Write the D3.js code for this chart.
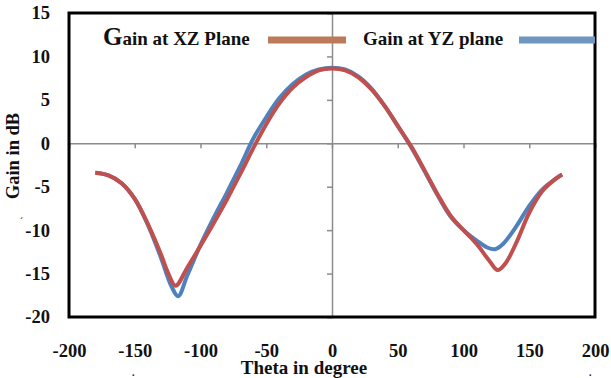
<!DOCTYPE html>
<html>
<head>
<meta charset="utf-8">
<script src="https://cdn.jsdelivr.net/npm/d3@7"></script>
<style>
  body { margin: 0; background: #fff; }
  text { font-family: "Liberation Serif", "Times New Roman", serif; font-weight: bold; fill: #111; }
</style>
</head>
<body>
<svg id="chart" width="611" height="378"></svg>
<script>
// theta (deg) and gain (dB)
let thetaXZ = [-180,-170,-160,-150,-140,-130,-125,-119,-110,-100,-90,-80,-70,-60,-50,-40,-30,-20,-10,0,10,20,30,40,50,60,70,80,90,100,110,120,126,132,140,150,160,170,175]
let gainXZ  = [-3.4,-3.7,-4.6,-6.4,-9.3,-12.8,-14.8,-16.4,-14.3,-11.8,-9.2,-6.5,-3.6,-0.6,2.2,4.6,6.4,7.6,8.4,8.6,8.4,7.6,6.2,4.3,2.0,-0.3,-3.0,-5.8,-8.3,-10.0,-11.6,-13.6,-14.6,-13.8,-11.5,-8.0,-5.5,-4.1,-3.6]

let thetaYZ = [-180,-170,-160,-150,-140,-130,-122,-117,-110,-100,-90,-80,-70,-60,-50,-40,-30,-20,-10,0,10,20,30,40,50,60,70,80,90,100,110,118,124,130,140,150,160,170,175]
let gainYZ  = [-3.4,-3.7,-4.6,-6.4,-9.4,-13.2,-16.5,-17.6,-15.2,-11.7,-8.6,-5.7,-2.7,0.5,3.0,5.2,6.8,7.9,8.5,8.7,8.5,7.7,6.3,4.3,2.0,-0.4,-3.1,-5.9,-8.4,-10.0,-11.2,-12.0,-12.2,-11.6,-9.6,-7.2,-5.3,-4.1,-3.6]

let xTicks = [-200,-150,-100,-50,0,50,100,150,200]
let yTicks = [-20,-15,-10,-5,0,5,10,15]

let margin = {top: 13, bottom: 61, left: 69, right: 16}
let width = 611
let height = 378

let svg = d3.select("#chart")
let xScale = d3.scaleLinear().domain([-200, 200]).range([margin.left, width - margin.right])
let yScale = d3.scaleLinear().domain([-20, 15]).range([height - margin.bottom, margin.top])

// tick labels outside the frame (plain hyphen as in the original)
svg.append("g")
    .attr("transform", "translate(0," + yScale(-20) + ")")
    .call(d3.axisBottom(xScale).tickValues(xTicks).tickSize(0).tickPadding(27).tickFormat(d => String(d)))
    .call(g => g.select(".domain").remove())
    .selectAll("text").style("font-size", "18.5px").attr("fill", "#111")

svg.append("g")
    .attr("transform", "translate(" + xScale(-200) + ",0)")
    .call(d3.axisLeft(yScale).tickValues(yTicks).tickSize(0).tickPadding(19).tickFormat(d => String(d)))
    .call(g => g.select(".domain").remove())
    .selectAll("text").style("font-size", "18.5px").attr("fill", "#111")

// axes through the origin
svg.append("g")
    .attr("transform", "translate(0," + yScale(0) + ")")
    .call(d3.axisBottom(xScale).tickValues(xTicks).tickSize(5).tickFormat(""))
    .call(g => g.selectAll("path, line").attr("stroke", "#8c8c8c").attr("stroke-width", 1.5))

svg.append("g")
    .attr("transform", "translate(" + xScale(0) + ",0)")
    .call(d3.axisLeft(yScale).tickValues(yTicks).tickSize(5).tickFormat(""))
    .call(g => g.selectAll("path, line").attr("stroke", "#8c8c8c").attr("stroke-width", 1.5))

let line = d3.line()
    .x(d => xScale(d[0]))
    .y(d => yScale(d[1]))
    .curve(d3.curveCatmullRom.alpha(0.5))

svg.append("path")
    .datum(d3.zip(thetaYZ, gainYZ))
    .attr("d", line)
    .attr("fill", "none")
    .attr("stroke", "#4f81bd")
    .attr("stroke-width", 4)

svg.append("path")
    .datum(d3.zip(thetaXZ, gainXZ))
    .attr("d", line)
    .attr("fill", "none")
    .attr("stroke", "#c0504d")
    .attr("stroke-width", 4)

// frame
svg.append("rect")
    .attr("x", xScale(-200))
    .attr("y", yScale(15))
    .attr("width", xScale(200) - xScale(-200))
    .attr("height", yScale(-20) - yScale(15))
    .attr("fill", "none")
    .attr("stroke", "#000")
    .attr("stroke-width", 3)

// legend
let leg1 = svg.append("text").attr("x", 103).attr("y", 45).style("font-size", "19px")
leg1.append("tspan").style("font-size", "25px").text("G")
leg1.append("tspan").text("ain at XZ Plane")
svg.append("line")
    .attr("x1", 268).attr("x2", 346).attr("y1", 40).attr("y2", 40)
    .attr("stroke", "#bc7a58").attr("stroke-width", 7)

svg.append("text").attr("x", 363).attr("y", 45).style("font-size", "19px").text("Gain at YZ plane")
svg.append("line")
    .attr("x1", 519).attr("x2", 595).attr("y1", 40).attr("y2", 40)
    .attr("stroke", "#7096c2").attr("stroke-width", 7)

// axis titles
svg.append("text")
    .attr("class", "xlabel")
    .style("text-anchor", "middle")
    .style("font-size", "19px")
    .attr("x", 304)
    .attr("y", 374)
    .text("Theta in degree")

svg.append("text")
    .attr("class", "ylabel")
    .style("text-anchor", "middle")
    .style("font-size", "18.5px")
    .attr("transform", "translate(19,156) rotate(-90)")
    .text("Gain in dB")

// small stray marks in the original
svg.append("text").attr("x", 20).attr("y", 224).style("font-size", "9px").text("´")
svg.append("text").attr("x", 132).attr("y", 376).style("font-size", "10px").text(".")
svg.append("text").attr("x", 589).attr("y", 376).style("font-size", "10px").text(".")
</script>
</body>
</html>
